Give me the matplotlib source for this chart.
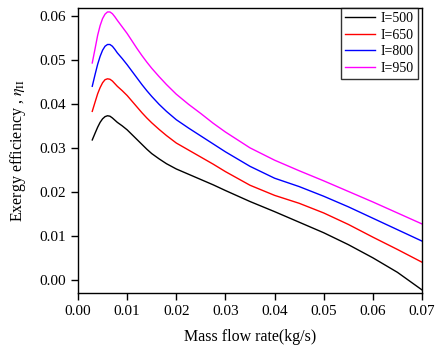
import numpy as np
import matplotlib
matplotlib.use("Agg")
import matplotlib.pyplot as plt

plt.rcParams['font.family'] = ['Liberation Serif', 'DejaVu Serif']
plt.rcParams['mathtext.fontset'] = 'stix'

# mass flow rate (kg/s)
m_dot = [0.0029, 0.0035, 0.004, 0.0045, 0.005, 0.0055, 0.006, 0.0065, 0.007,
         0.0075, 0.008, 0.009, 0.010, 0.011, 0.012, 0.013, 0.014, 0.015,
         0.0165, 0.018, 0.020, 0.0225, 0.025, 0.0275, 0.030, 0.035, 0.040,
         0.045, 0.050, 0.055, 0.060, 0.065, 0.070]

# exergy efficiency for each irradiance level
eta_500 = [0.0318, 0.0334, 0.0347, 0.0358, 0.0366, 0.0371, 0.0373, 0.0372, 0.0368,
           0.0363, 0.0358, 0.0350, 0.0341, 0.0330, 0.0319, 0.0308, 0.0297, 0.0287,
           0.0275, 0.0264, 0.0252, 0.0240, 0.0228, 0.0216, 0.0203, 0.0178, 0.0155,
           0.0131, 0.0107, 0.0080, 0.0050, 0.0017, -0.0023]
eta_650 = [0.0383, 0.0405, 0.0423, 0.0437, 0.0448, 0.0455, 0.0457, 0.0456, 0.0452,
           0.0446, 0.0440, 0.0430, 0.0419, 0.0406, 0.0393, 0.0380, 0.0368, 0.0357,
           0.0342, 0.0328, 0.0311, 0.0295, 0.0279, 0.0263, 0.0246, 0.0215, 0.0192,
           0.0174, 0.0152, 0.0126, 0.0097, 0.0069, 0.0040]
eta_800 = [0.0440, 0.0468, 0.0490, 0.0508, 0.0522, 0.0531, 0.0535, 0.0535, 0.0531,
           0.0524, 0.0516, 0.0503, 0.0489, 0.0474, 0.0459, 0.0444, 0.0430, 0.0417,
           0.0399, 0.0383, 0.0364, 0.0345, 0.0327, 0.0309, 0.0291, 0.0258, 0.0231,
           0.0212, 0.0190, 0.0166, 0.0140, 0.0114, 0.0088]
eta_950 = [0.0493, 0.0527, 0.0556, 0.0578, 0.0594, 0.0604, 0.0609, 0.0609, 0.0605,
           0.0598, 0.0590, 0.0575, 0.0560, 0.0543, 0.0526, 0.0510, 0.0495, 0.0481,
           0.0462, 0.0444, 0.0422, 0.0399, 0.0378, 0.0356, 0.0336, 0.0300, 0.0272,
           0.0248, 0.0225, 0.0201, 0.0177, 0.0152, 0.0127]

labels = ['I=500', 'I=650', 'I=800', 'I=950']
colors = ['black', 'red', 'blue', 'magenta']

fig = plt.figure(figsize=(4.43, 3.51), dpi=100)
ax = fig.add_axes([78 / 443, 1 - 293 / 351, (422 - 78) / 443, (293 - 8) / 351])

for y, lab, c in zip([eta_500, eta_650, eta_800, eta_950], labels, colors):
    ax.plot(m_dot, y, color=c, lw=1.0, label=lab)

ax.set_xlim(0, 0.07)
ax.set_ylim(-0.003, 0.0618)
ax.set_xticks(np.arange(0, 0.0701, 0.01))
ax.set_yticks(np.arange(0, 0.0601, 0.01))
ax.xaxis.set_major_formatter(matplotlib.ticker.FormatStrFormatter('%.2f'))
ax.yaxis.set_major_formatter(matplotlib.ticker.FormatStrFormatter('%.2f'))
ax.tick_params(direction='out', length=5, width=1, labelsize=11, top=False, right=False)
for s in ax.spines.values():
    s.set_linewidth(1.0)

ax.set_xlabel('Mass flow rate(kg/s)', fontsize=11.5, labelpad=8)
ax.set_ylabel(r'Exergy efficiency , $\eta_{\rm II}$', fontsize=11.5, labelpad=8)

leg = ax.legend(loc='upper right', bbox_to_anchor=(1 - 4 / 344, 1.0), borderaxespad=0,
                fontsize=10, frameon=True, fancybox=False, edgecolor='black',
                handlelength=2.15, handletextpad=0.4, labelspacing=0.25, borderpad=0.3)
leg.get_frame().set_linewidth(1.0)

fig.savefig('out.png', dpi=100)
